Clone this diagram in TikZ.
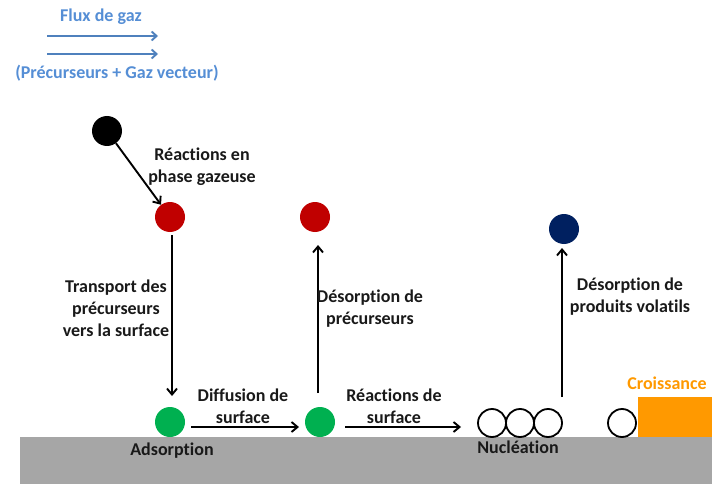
\documentclass[tikz,border=0pt]{standalone}
\usepackage{fontspec}
\setmainfont{Carlito}[Ligatures={NoCommon}]
\usetikzlibrary{arrows.meta}
\definecolor{fluxblue}{HTML}{4F81BD}
\definecolor{fluxtext}{HTML}{558ED5}
\definecolor{redmol}{HTML}{C00000}
\definecolor{navymol}{HTML}{002060}
\definecolor{greenmol}{HTML}{00B050}
\definecolor{substrate}{HTML}{A6A6A6}
\definecolor{growth}{HTML}{FF9900}
\tikzset{
  lbl/.style={font=\bfseries\fontsize{18}{22}\selectfont, align=center, text=black!90, inner sep=0pt},
  mol/.style={circle, minimum size=30pt, inner sep=0pt},
  ring/.style={circle, draw=black, line width=1.8pt, minimum size=28pt, inner sep=0pt},
  arr/.style={line width=1.9pt, -{Straight Barb[length=6pt,width=10pt]}},
  flux/.style={line width=1.9pt, draw=fluxblue, -{Straight Barb[length=5pt,width=9pt]}}
}
\begin{document}
\begin{tikzpicture}[x=1pt,y=-1pt]
\useasboundingbox (0,0) rectangle (712,484);
% substrate and growth
\fill[substrate] (20,437) rectangle (712,484);
\fill[growth] (638,397) rectangle (712,437);
% gas flow
\coordinate (f1a) at (47,36); \coordinate (f1b) at (158,36);
\coordinate (f2a) at (47,54); \coordinate (f2b) at (158,54);
\draw[flux] (f1a) -- (f1b);
\draw[flux] (f2a) -- (f2b);
\node[lbl, text=fluxtext] (fluxt) at (101,17) {Flux de gaz};
\node[lbl, text=fluxtext] (prect) at (117,73) {(Précurseurs + Gaz vecteur)};
% molecules
\node[mol, fill=black] (blk) at (107,131) {};
\node[mol, fill=redmol] (red1) at (170,217) {};
\node[mol, fill=redmol] (red2) at (315,217) {};
\node[mol, fill=navymol] (navy) at (564,229) {};
\node[mol, fill=greenmol] (g1) at (170,422) {};
\node[mol, fill=greenmol] (g2) at (320,422) {};
\node[ring] (n1) at (492,423) {};
\node[ring] (n2) at (520,423) {};
\node[ring] (n3) at (548,423) {};
\node[ring] (n4) at (622,423) {};
% connectors
\coordinate (t1) at (172,235); \coordinate (t2) at (172,396);
\draw[arr] (blk) -- (red1);
\draw[arr] (t1) -- (t2);
\coordinate (d1) at (318,393); \coordinate (d2) at (318,245);
\draw[arr] (d1) -- (d2);
\coordinate (v1) at (562,397); \coordinate (v2) at (562,248);
\draw[arr] (v1) -- (v2);
\coordinate (s1) at (191,427); \coordinate (s2) at (299,427);
\draw[arr] (s1) -- (s2);
\coordinate (r1) at (345,427); \coordinate (r2) at (461,427);
\draw[arr] (r1) -- (r2);
% labels
\node[lbl] (lgas) at (202,167) {Réactions en\\phase gazeuse};
\node[lbl] (ltrans) at (116,308) {Transport des\\précurseurs\\vers la surface};
\node[lbl] (ldesp) at (370,309) {Désorption de\\précurseurs};
\node[lbl] (ldesv) at (630,297) {Désorption de\\produits volatils};
\node[lbl] (ldiff) at (243,406) {Diffusion de\\surface};
\node[lbl] (lreac) at (394,406) {Réactions de\\surface};
\node[lbl] (lads) at (172,451) {Adsorption};
\node[lbl] (lnuc) at (518,447) {Nucléation};
\node[lbl, text=growth] (lcro) at (667,383) {Croissance};
\end{tikzpicture}
\end{document}
